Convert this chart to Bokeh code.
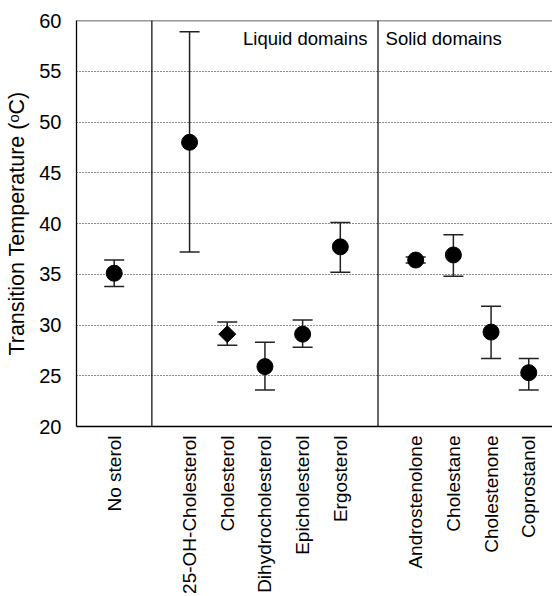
import math
from bokeh.plotting import figure
from bokeh.models import FixedTicker, Span, Label, ColumnDataSource
from bokeh.embed import file_html
from bokeh.resources import INLINE

# ---- data ----
group_names = ["", "Liquid domains", "Solid domains"]
group_members = [
    ["No sterol"],
    ["25-OH-Cholesterol", "Cholesterol", "Dihydrocholesterol", "Epicholesterol", "Ergosterol"],
    ["Androstenolone", "Cholestane", "Cholestenone", "Coprostanol"],
]
temps = [35.1, 48.0, 29.1, 25.9, 29.1, 37.7, 36.4, 36.9, 29.3, 25.3]
upper = [36.4, 58.9, 30.3, 28.3, 30.5, 40.1, 36.7, 38.9, 31.85, 26.7]
lower = [33.8, 37.2, 28.0, 23.6, 27.8, 35.2, 36.1, 34.8, 26.7, 23.6]
y_ticks = [20, 25, 30, 35, 40, 45, 50, 55, 60]

# ---- positions from groups (one empty slot between groups) ----
names, xs, dividers = [], [], []
pos = 0
for gi, members in enumerate(group_members):
    if gi > 0:
        dividers.append(pos)
        pos += 1
    for m in members:
        names.append(m)
        xs.append(pos)
        pos += 1

FONT = "Liberation Sans"

p = figure(width=552, height=596, output_backend="svg", toolbar_location=None,
           x_range=(-1, 11.63), y_range=(20, 60),
           min_border_left=76, min_border_right=0, min_border_top=20, min_border_bottom=170)
p.outline_line_color = None
p.background_fill_color = "white"
p.border_fill_color = "white"

# axes
p.yaxis.ticker = FixedTicker(ticks=y_ticks)
p.yaxis.major_tick_line_color = None
p.yaxis.minor_tick_line_color = None
p.yaxis.axis_line_color = "black"
p.yaxis.axis_line_width = 1.3
p.yaxis.major_label_text_font = FONT
p.yaxis.major_label_text_font_size = "20px"
p.yaxis.major_label_text_color = "black"
p.yaxis.major_label_standoff = 9
p.yaxis.axis_label = "Transition Temperature (\u1d52C)"
p.yaxis.axis_label_text_font = FONT
p.yaxis.axis_label_text_font_size = "21.5px"
p.yaxis.axis_label_text_font_style = "normal"
p.yaxis.axis_label_text_color = "black"
p.yaxis.axis_label_standoff = 7

p.xaxis.ticker = FixedTicker(ticks=xs)
p.xaxis.major_label_overrides = {x: n for x, n in zip(xs, names)}
p.xaxis.major_label_orientation = math.pi / 2
p.xaxis.major_tick_line_color = None
p.xaxis.minor_tick_line_color = None
p.xaxis.axis_line_color = "black"
p.xaxis.axis_line_width = 1.3
p.xaxis.major_label_text_font = FONT
p.xaxis.major_label_text_font_size = "19px"
p.xaxis.major_label_text_color = "black"
p.xaxis.major_label_standoff = 3

# grid
p.xgrid.grid_line_color = None
p.ygrid.ticker = FixedTicker(ticks=y_ticks[1:-1])
p.ygrid.grid_line_color = "#1a1a1a"
p.ygrid.grid_line_dash = "1 2"
p.ygrid.grid_line_width = 1

# top border and dividers
p.add_layout(Span(location=60, dimension="width", line_color="#333333", line_width=1.5))
for d in dividers:
    p.add_layout(Span(location=d, dimension="height", line_color="black", line_width=1.2))

# group labels
p.add_layout(Label(x=dividers[1] - 0.28, y=57.2, text=group_names[1],
                   text_align="right", text_font=FONT, text_font_size="18.5px", text_color="black"))
p.add_layout(Label(x=dividers[1] + 0.2, y=57.2, text=group_names[2],
                   text_align="left", text_font=FONT, text_font_size="18.5px", text_color="black"))

src = ColumnDataSource(dict(x=xs, y=temps, hi=upper, lo=lower, name=names))
p.segment(x0="x", y0="lo", x1="x", y1="hi", source=src, line_color="#222222", line_width=1.5)
p.scatter(x="x", y="hi", source=src, marker="dash", size=20, line_color="#222222", line_width=1.5)
p.scatter(x="x", y="lo", source=src, marker="dash", size=20, line_color="#222222", line_width=1.5)

circ_x = [x for x, n in zip(xs, names) if n != "Cholesterol"]
circ_y = [t for t, n in zip(temps, names) if n != "Cholesterol"]
dia_x = [x for x, n in zip(xs, names) if n == "Cholesterol"]
dia_y = [t for t, n in zip(temps, names) if n == "Cholesterol"]
p.scatter(circ_x, circ_y, marker="circle", size=16, fill_color="black", line_color="black")
p.scatter(dia_x, dia_y, marker="square", size=12, angle=math.pi / 4,
          fill_color="black", line_color="black")

open("out.html", "w").write(file_html(p, INLINE))
